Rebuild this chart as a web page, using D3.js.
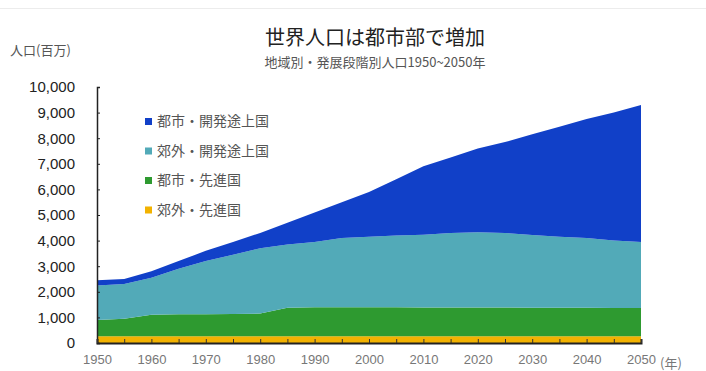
<!DOCTYPE html>
<html>
<head>
<meta charset="utf-8">
<script src="https://cdn.jsdelivr.net/npm/d3@7"></script>
<style>
  body { margin: 0; background: #fff; }
  svg { font-family: "Noto Sans CJK JP", "Liberation Sans", sans-serif; }
</style>
</head>
<body>
<svg id="vis" width="706" height="371"></svg>
<script>
// values (millions), 5-year steps
const years = [1950, 1955, 1960, 1965, 1970, 1975, 1980, 1985, 1990, 1995, 2000,
               2005, 2010, 2015, 2020, 2025, 2030, 2035, 2040, 2045, 2050];
const ruralDeveloped = [260, 260, 260, 260, 260, 260, 260, 260, 260, 260, 260,
                        260, 260, 260, 260, 260, 260, 260, 260, 260, 260];
const urbanDeveloped = [640, 690, 840, 860, 860, 870, 890, 1120, 1140, 1140, 1140,
                        1140, 1130, 1130, 1130, 1125, 1120, 1120, 1115, 1110, 1110];
const ruralDeveloping = [1350, 1350, 1450, 1780, 2080, 2320, 2550, 2470, 2550, 2700, 2750,
                         2800, 2840, 2910, 2940, 2915, 2840, 2770, 2725, 2630, 2580];
const urbanDeveloping = [200, 200, 250, 300, 400, 500, 600, 850, 1150, 1400, 1750,
                         2200, 2670, 2950, 3270, 3550, 3930, 4300, 4650, 5000, 5350];

const seriesNames = ["郊外・先進国", "都市・先進国", "郊外・開発途上国", "都市・開発途上国"];
const seriesColors = ["#f2b200", "#2e9a30", "#52aab8", "#1140c8"];
const yTicks = [0, 1000, 2000, 3000, 4000, 5000, 6000, 7000, 8000, 9000, 10000];
const xLabels = [1950, 1960, 1970, 1980, 1990, 2000, 2010, 2020, 2030, 2040, 2050];

const margin = {top: 87, right: 65, bottom: 28, left: 97};

translate = function(a, b) {
  return "translate(" + a + ", " + b + ")";
}

const svg = d3.select("#vis");
const width = 706 - margin.left - margin.right;
const height = 371 - margin.top - margin.bottom;

// faint frame line at the top
svg.append("line")
  .attr("x1", 0).attr("x2", 706).attr("y1", 8.5).attr("y2", 8.5)
  .attr("stroke", "#ececec");

const plot = svg.append("g").attr("transform", translate(margin.left, margin.top));

const x = d3.scaleLinear().domain([1950, 2050]).range([0, width]);
const y = d3.scaleLinear().domain([0, 10000]).range([height, 0]);

const keys = ["rd", "ud", "rg", "ug"];
const table = years.map(function(yr, i) {
  return {year: yr, rd: ruralDeveloped[i], ud: urbanDeveloped[i],
          rg: ruralDeveloping[i], ug: urbanDeveloping[i]};
});
const stacked = d3.stack().keys(keys)(table);

const area = d3.area()
  .x(function(d) { return x(d.data.year); })
  .y0(function(d) { return y(d[0]); })
  .y1(function(d) { return y(d[1]); });

plot.selectAll("path.layer")
  .data(stacked)
  .enter().append("path")
  .attr("class", "layer")
  .attr("d", area)
  .attr("fill", function(d, i) { return seriesColors[i]; });

// y axis
const yAxis = plot.append("g")
  .call(d3.axisLeft(y).tickValues(yTicks).tickSize(-3).tickPadding(22)
    .tickFormat(d3.format(",")));
yAxis.select(".domain").attr("stroke", "#222").attr("stroke-width", 1.5);
yAxis.selectAll(".tick line").attr("stroke", "#222");
yAxis.selectAll("text").attr("font-size", 15).attr("fill", "#222")
  .attr("font-family", "Liberation Sans, sans-serif");

// x axis
const xAxis = plot.append("g")
  .attr("transform", translate(0, height))
  .call(d3.axisBottom(x).tickValues(years).tickSize(-4).tickPadding(12)
    .tickFormat(function(d) { return xLabels.indexOf(d) >= 0 ? d : ""; }));
xAxis.select(".domain").attr("stroke", "#222").attr("stroke-width", 2);
xAxis.selectAll(".tick line").attr("stroke", "#333");
xAxis.selectAll("text").attr("font-size", 13).attr("fill", "#777")
  .attr("font-family", "Liberation Sans, sans-serif");

svg.append("text")
  .attr("x", margin.left + width + 19).attr("y", 368)
  .attr("font-size", 13).attr("fill", "#777")
  .text("(年)");

// titles
svg.append("text")
  .attr("x", 375).attr("y", 45)
  .attr("text-anchor", "middle")
  .attr("font-size", 20).attr("fill", "#222")
  .text("世界人口は都市部で増加");

svg.append("text")
  .attr("x", 375).attr("y", 67)
  .attr("text-anchor", "middle")
  .attr("font-size", 13).attr("fill", "#555")
  .text("地域別・発展段階別人口1950~2050年");

svg.append("text")
  .attr("x", 10).attr("y", 55)
  .attr("font-size", 13).attr("fill", "#555")
  .text("人口(百万)");

// legend, top entry first
const legend = svg.append("g").attr("transform", translate(145, 118));
const order = [3, 2, 1, 0];
order.forEach(function(s, i) {
  const g = legend.append("g").attr("transform", translate(0, i * 29.5));
  g.append("rect").attr("x", 0).attr("y", 0).attr("width", 7).attr("height", 7)
    .attr("fill", seriesColors[s]);
  g.append("text").attr("x", 12).attr("y", 8)
    .attr("font-size", 14).attr("fill", "#555")
    .text(seriesNames[s]);
});
</script>
</body>
</html>
